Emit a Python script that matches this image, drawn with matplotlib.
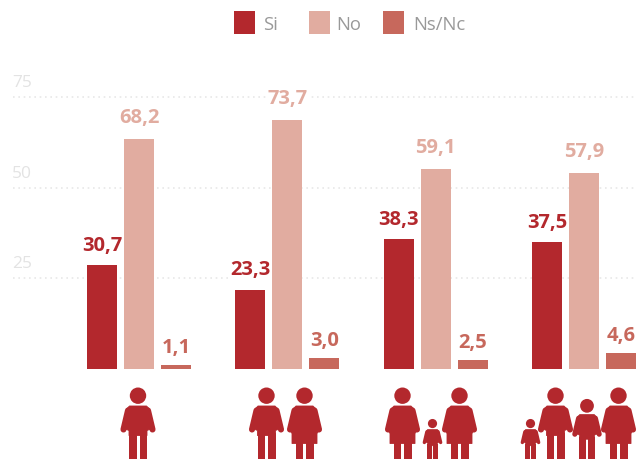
import matplotlib.pyplot as plt
from matplotlib.patches import Circle, Polygon, Rectangle

W, H = 637, 459

series_names = ['Si', 'No', 'Ns/Nc']
colors = ['#b3282d', '#e1aca0', '#c7685c']

# bar heights as they stand on the axis, the printed labels are a bit higher
si_values = [28.6, 21.8, 35.8, 35.0]
no_values = [63.4, 68.6, 55.1, 54.0]
ns_values = [1.1, 3.0, 2.5, 4.4]
si_labels = ['30,7', '23,3', '38,3', '37,5']
no_labels = ['68,2', '73,7', '59,1', '57,9']
ns_labels = ['1,1', '3,0', '2,5', '4,6']
y_ticks = [25, 50, 75]

# Icons: (center x in px, size relative to an adult, dress or not)
icons = [(138, 1, False),
         (266.5, 1, False), (304.5, 1, True),
         (402.5, 1, True), (432.5, 0.56, False), (459.5, 1, True),
         (530.5, 0.56, False), (555.5, 1, False), (587, 0.84, False), (618.5, 1, True)]

ICON_RED = '#b3282d'
TEXT_FONT = ['Open Sans', 'DejaVu Sans']

fig = plt.figure(figsize=(W / 100, H / 100), dpi=100)

# Main axes fill the figure, 0 is at y=369px and 75 at y=97px
ax = fig.add_axes([0, 0, 1, 1])
px_per_unit = (369 - 97) / 75
px_per_group = 148.3
ax.set_ylim(-(H - 369) / px_per_unit, 369 / px_per_unit)
ax.set_xlim(-139 / px_per_group, (W - 139) / px_per_group)
ax.axis('off')

bar_w = 30 / px_per_group
step = 37 / px_per_group

for v in y_ticks:
    ax.plot([(13 - 139) / px_per_group, (W - 139) / px_per_group], [v, v],
            color='#e8e8e8', lw=1.2, ls=(0, (1, 2.2)), zorder=1)
    ax.annotate(str(v), (-139 / px_per_group, v), xytext=(8.5, 10), textcoords='offset points',
                family=TEXT_FONT, fontsize=12.5, color='#e3e3e3', va='center', ha='left')

all_values = [si_values, no_values, ns_values]
all_labels = [si_labels, no_labels, ns_labels]
label_offsets = [14, 15, 12]
for k in range(3):
    xs = [i + (k - 1) * step for i in range(4)]
    ax.bar(xs, all_values[k], width=bar_w, color=colors[k], zorder=2)
    for x, v, lab in zip(xs, all_values[k], all_labels[k]):
        ax.annotate(lab, (x, v), xytext=(0, label_offsets[k]), textcoords='offset points',
                    family=TEXT_FONT, fontsize=14.5, fontweight='bold', color=colors[k],
                    ha='center', va='center', zorder=3,
                    bbox=dict(facecolor='white', edgecolor='none', pad=0.5))

# Overlay in pixel coordinates for the legend and the people
ov = fig.add_axes([0, 0, 1, 1])
ov.set_xlim(0, W)
ov.set_ylim(H, 0)
ov.axis('off')

for x, tx, name, col in zip([234, 309, 383], [263, 336, 413], series_names, colors):
    ov.add_patch(Rectangle((x, 11), 21, 23, color=col, lw=0))
    ov.text(tx, 24.5, name, family=TEXT_FONT, fontsize=13.3, color='#999999', va='center', ha='left')


def person(cx, s, dress):
    feet = 459
    top = feet - 71.5 * s

    def P(dx, dy):
        return (cx + dx * s, top + dy * s)

    ov.add_patch(Circle(P(0, 8.2), 8.2 * s, color=ICON_RED, lw=0))
    # arms
    for sign in (-1, 1):
        a = P(sign * 10, 23)
        b = P(sign * 14.5, 42)
        ov.plot([a[0], b[0]], [a[1], b[1]], color=ICON_RED, lw=4.4 * s, solid_capstyle='round')
    if dress:
        body = [P(-8.5, 18.5), P(8.5, 18.5), P(11, 21), P(15, 42), P(12.5, 46), P(12.5, 56),
                P(-12.5, 56), P(-12.5, 46), P(-15, 42), P(-11, 21)]
    else:
        body = [P(-8.5, 18.5), P(8.5, 18.5), P(11, 21), P(14, 41), P(9, 43), P(9, 48),
                P(-9, 48), P(-9, 43), P(-14, 41), P(-11, 21)]
    ov.add_patch(Polygon(body, closed=True, facecolor=ICON_RED, edgecolor=ICON_RED, lw=0.6 * s, joinstyle='round'))
    # legs
    for x0 in (-9, 1.5):
        ov.add_patch(Rectangle(P(x0, 45), 7.5 * s, 26.5 * s, color=ICON_RED, lw=0))


for cx, s, dress in icons:
    person(cx, s, dress)

fig.savefig('out.png', dpi=100)
